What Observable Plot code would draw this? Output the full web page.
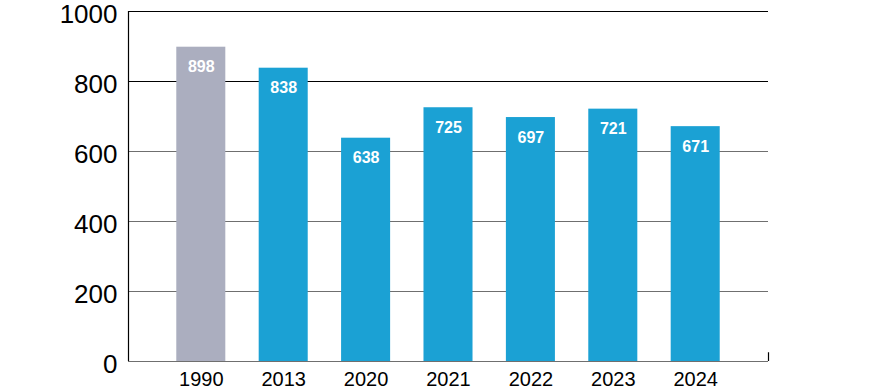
<!DOCTYPE html>
<html>
<head>
<meta charset="utf-8">
<script src="https://cdn.jsdelivr.net/npm/d3@7"></script>
<script src="https://cdn.jsdelivr.net/npm/@observablehq/plot@0.6"></script>
<style>
  html, body { margin: 0; padding: 0; background: #fff; }
  #chart svg { display: block; }
</style>
</head>
<body>
<div id="chart"></div>
<script>
const years = ["1990", "2013", "2020", "2021", "2022", "2023", "2024"];
const values = [898, 838, 638, 725, 697, 721, 671];
const barColors = ["#abaebf", "#1ba1d4", "#1ba1d4", "#1ba1d4", "#1ba1d4", "#1ba1d4", "#1ba1d4"];
const yTicks = [0, 200, 400, 600, 800, 1000];
const darkGrid = [800, 1000];
const lightGrid = [0, 200, 400, 600];

const data = years.map((y, i) => ({year: y, value: values[i], color: barColors[i]}));

const W = 880, H = 390;
const chart = Plot.plot({
  width: W,
  height: H,
  marginLeft: 128,
  marginRight: 112,
  marginTop: 11,
  marginBottom: 29,
  style: {fontFamily: "'Liberation Sans', Arial, Helvetica, sans-serif", background: "#fff", color: "#000"},
  x: {domain: years, paddingInner: 0.405, paddingOuter: 0.586, round: false, label: null},
  y: {domain: [0, 1000], label: null},
  marks: [
    Plot.ruleY(lightGrid, {stroke: "#6f6f6f", strokeWidth: 1.2}),
    Plot.ruleY(darkGrid, {stroke: "#000", strokeWidth: 1.2}),
    Plot.barY(data, {x: "year", y: "value", fill: "color"}),
    Plot.text(data, {x: "year", y: "value", text: d => String(d.value), dy: 20, fill: "#fff", fontWeight: "bold", fontSize: 16}),
    Plot.axisY({ticks: yTicks, tickFormat: d => String(d), tickSize: 0, tickPadding: 11, fontSize: 26, dy: 3, label: null}),
    Plot.axisX({tickSize: 0, tickPadding: 10, fontSize: 20, label: null}),
    Plot.ruleX([0], {x: null, y1: 0, y2: 1000, stroke: "#000", strokeWidth: 1.2, render: (index, scales, values, dims, context, next) => {
      const g = next(index, scales, values, dims, context);
      d3.select(g).selectAll("line").attr("x1", dims.marginLeft).attr("x2", dims.marginLeft);
      return g;
    }}),
    Plot.ruleX([0], {x: null, y1: 0, y2: 25, stroke: "#000", strokeWidth: 1.2, render: (index, scales, values, dims, context, next) => {
      const g = next(index, scales, values, dims, context);
      const xr = dims.width - dims.marginRight;
      d3.select(g).selectAll("line").attr("x1", xr).attr("x2", xr);
      return g;
    }})
  ]
});
document.getElementById("chart").appendChild(chart);
</script>
</body>
</html>
